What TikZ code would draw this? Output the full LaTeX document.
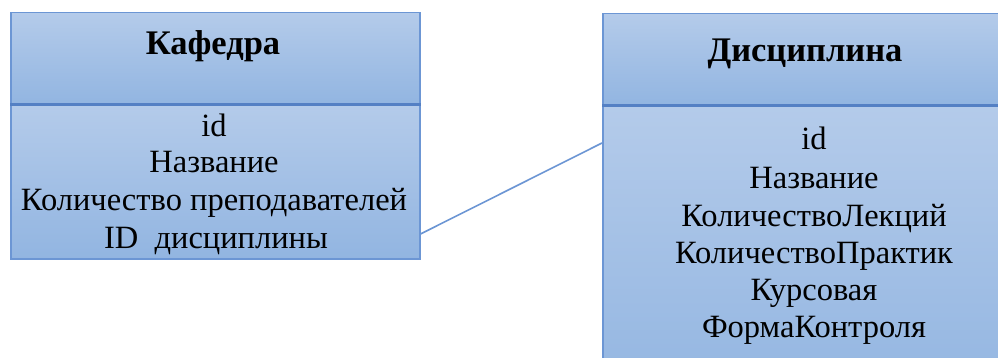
\documentclass[tikz,border=0pt]{standalone}
\usepackage{fontspec}
\newfontfamily\umlfont{Liberation Serif}
\begin{document}
\begin{tikzpicture}[x=1pt,y=-1pt,
  boxline/.style={draw=umlEdge, line width=1.5pt},
  compartment/.style={boxline, rectangle, anchor=north west, inner sep=0pt,
    top color=umlTop, bottom color=umlBottom},
  divider/.style={draw=umlDivider, line width=2.2pt},
  title/.style={font=\umlfont\fontsize{34.5}{37}\selectfont\bfseries, anchor=base, inner sep=0pt},
  field/.style={font=\umlfont\fontsize{32.5}{37}\selectfont, anchor=base, inner sep=0pt},
  link/.style={draw=umlEdge, line width=1.6pt}]
\definecolor{umlTop}{RGB}{180,203,234}
\definecolor{umlBottom}{RGB}{146,181,225}
\definecolor{umlEdge}{RGB}{108,150,212}
\definecolor{umlDivider}{RGB}{84,128,196}
\clip (0,0) rectangle (998,358);
\useasboundingbox (0,0) rectangle (998,358);
\fill[white] (0,0) rectangle (998,358);

% class "Кафедра"
\node[compartment, minimum width=409pt, minimum height=91pt] (lhead) at (10,12) {};
\node[compartment, minimum width=409pt, minimum height=155pt] (lbody) at (10,103) {};
\draw[divider] (lhead.south west) -- (lhead.south east);
\node[title] (ltitle) at (213,55) {Кафедра};
\node[field] (l1) at (214,137) {id};
\node[field] (l2) at (214,173) {Название};
\node[field] (l3) at (214,211) {Количество преподавателей};
\node[field] (l4) at (216,248) {ID\ \ дисциплины};

% class "Дисциплина"
\node[compartment, minimum width=420pt, minimum height=91pt] (rhead) at (602,13) {};
\node[compartment, minimum width=420pt, minimum height=300pt] (rbody) at (602,104) {};
\draw[divider] (rhead.south west) -- (rhead.south east);
\node[title] (rtitle) at (805,62) {Дисциплина};
\node[field] (r1) at (814,150) {id};
\node[field] (r2) at (814,189) {Название};
\node[field] (r3) at (814,226) {КоличествоЛекций};
\node[field] (r4) at (814,263) {КоличествоПрактик};
\node[field] (r5) at (814,300) {Курсовая};
\node[field] (r6) at (814,337) {ФормаКонтроля};

% association
\coordinate (la) at (lbody.east |- 0,234);
\coordinate (ra) at (rbody.west |- 0,143);
\draw[link] (la) -- (ra);
\end{tikzpicture}
\end{document}
